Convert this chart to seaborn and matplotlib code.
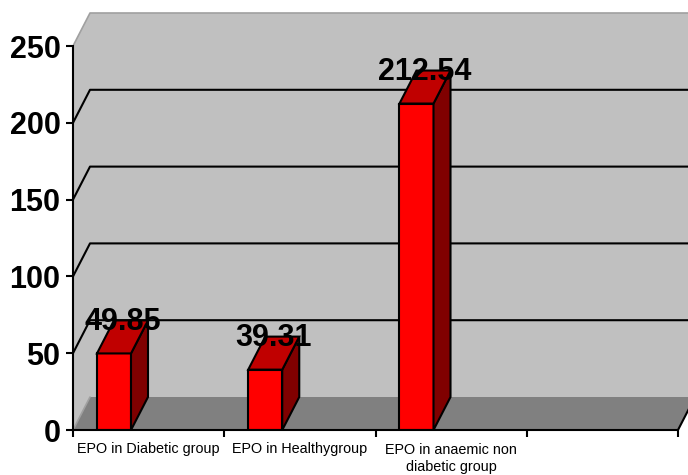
import matplotlib
matplotlib.use("Agg")
import matplotlib.pyplot as plt
from matplotlib.patches import Polygon
import seaborn as sns
import pandas as pd

# ---- data ----
categories = ["EPO in Diabetic group", "EPO in Healthygroup", "EPO in anaemic non\ndiabetic group"]
values = [49.85, 39.31, 212.54]
y_ticks = [0, 50, 100, 150, 200, 250]
n_slots = 4  # the category axis has a fourth, empty slot

sns.set_theme(style="white")
plt.rcParams['font.family'] = ['Liberation Sans', 'DejaVu Sans']
plt.rcParams['text.color'] = 'black'

W, H = 688, 475
fig = plt.figure(figsize=(W / 100, H / 100), dpi=100)
px_per_cat = 151.25
px_per_unit = 1.536
ax = fig.add_axes([73 / W, (H - 430) / H, (W - 73) / W, 430 / H])
ax.set_facecolor("none")

# 3D depth in data units
ddx = 17 / px_per_cat
ddy = 33 / px_per_unit
x0, x1 = -0.5, n_slots - 0.5
ymax = max(y_ticks)

df = pd.DataFrame({"cat": categories, "val": values})
bar_w = 0.225
sns.barplot(data=df, x="cat", y="val", order=categories, color="#FF0000",
            width=bar_w, edgecolor="black", linewidth=1.5, saturation=1,
            ax=ax, zorder=3)
bars = list(ax.patches)

xmax = x0 + (W - 73) / px_per_cat
ax.set_xlim(x0, xmax)
ax.set_ylim(0, 430 / px_per_unit)

# walls and floor
wall_c, floor_c = "#C0C0C0", "#808080"
ax.add_patch(Polygon([(x0 + ddx, ddy), (xmax + 1, ddy), (xmax + 1, ymax + ddy), (x0 + ddx, ymax + ddy)],
                     closed=True, facecolor=wall_c, edgecolor="none", zorder=0))
ax.add_patch(Polygon([(x0, 0), (x0 + ddx, ddy), (x0 + ddx, ymax + ddy), (x0, ymax)],
                     closed=True, facecolor=wall_c, edgecolor="none", zorder=0))
ax.add_patch(Polygon([(x0, 0), (x1, 0), (x1 + ddx, ddy), (x0 + ddx, ddy)],
                     closed=True, facecolor=floor_c, edgecolor="none", zorder=0.5))
ax.plot([x1, x1 + ddx], [0, ddy], color="black", lw=1.5, zorder=1)
ax.plot([x0, x0 + ddx, xmax + 1], [ymax, ymax + ddy, ymax + ddy], color="#A0A0A0", lw=1.2, zorder=1)
ax.plot([x0, x0 + ddx], [0, ddy], color="#A0A0A0", lw=1.2, zorder=1)

for t in y_ticks[1:-1]:
    ax.plot([x0, x0 + ddx, xmax + 1], [t, t + ddy, t + ddy], color="black", lw=1.5, zorder=1)

offset = -0.229
for p, v in zip(bars, values):
    p.set_x(p.get_x() + offset)
    bx, bw, bh = p.get_x(), p.get_width(), p.get_height()
    top = Polygon([(bx, bh), (bx + bw, bh), (bx + bw + ddx, bh + ddy), (bx + ddx, bh + ddy)],
                  closed=True, facecolor="#C00000", edgecolor="black", lw=1.5, zorder=3)
    side = Polygon([(bx + bw, 0), (bx + bw + ddx, ddy), (bx + bw + ddx, bh + ddy), (bx + bw, bh)],
                   closed=True, facecolor="#800000", edgecolor="black", lw=1.5, zorder=3)
    ax.add_patch(side)
    ax.add_patch(top)
    ax.text(bx + bw / 2 + ddx / 2, bh + ddy - 1, f"{v:.2f}", ha="center", va="center",
            fontsize=22, fontweight="bold", color="black", zorder=6)

for s in ["top", "right"]:
    ax.spines[s].set_visible(False)
ax.spines["left"].set_bounds(0, ymax)
ax.spines["bottom"].set_bounds(x0, x1)
for s in ["left", "bottom"]:
    ax.spines[s].set_linewidth(1.5)
    ax.spines[s].set_color("black")
    ax.spines[s].set_zorder(4)

ax.set_yticks(y_ticks)
ax.set_yticklabels([str(t) for t in y_ticks], fontsize=22, fontweight="bold")
ax.tick_params(axis="y", direction="out", length=5, width=1.5, pad=4, color="black",
               labelcolor="black", left=True)

ax.set_xticks(range(len(categories)))
ax.set_xticklabels(categories, fontsize=10.4, linespacing=1.3)
ax.tick_params(axis="x", which="major", length=0, pad=9, labelcolor="black")
ax.set_xticks([x0 + i for i in range(n_slots + 1)], minor=True)
ax.tick_params(axis="x", which="minor", direction="out", length=5, width=1.5, color="black", bottom=True)
ax.set_xlabel("")
ax.set_ylabel("")

fig.savefig("out.png", dpi=100)
